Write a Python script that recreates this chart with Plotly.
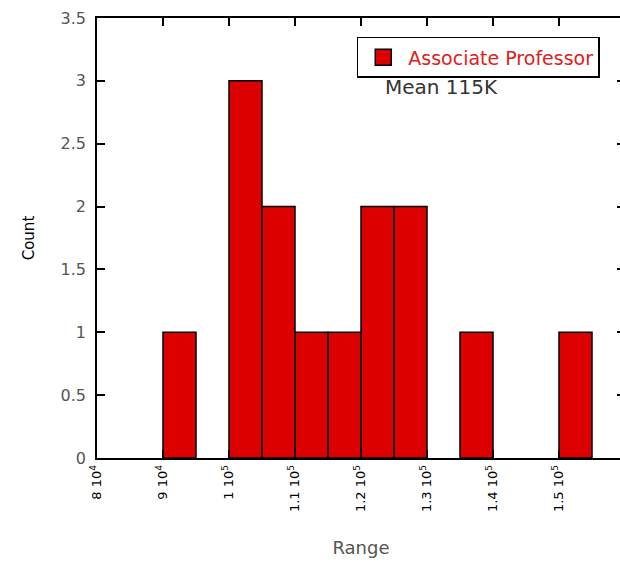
import plotly.graph_objects as go

# histogram bins (lower edge, 5k wide) and counts
bin_starts = [90000, 100000, 105000, 110000, 115000, 120000, 125000, 135000, 150000]
counts = [1, 3, 2, 1, 1, 2, 2, 1, 1]
bin_width = 5000

x_ticks = [80000, 90000, 100000, 110000, 120000, 130000, 140000, 150000, 160000]
x_tick_text = ['8 10<sup>4</sup>', '9 10<sup>4</sup>', '1 10<sup>5</sup>', '1.1 10<sup>5</sup>',
               '1.2 10<sup>5</sup>', '1.3 10<sup>5</sup>', '1.4 10<sup>5</sup>',
               '1.5 10<sup>5</sup>', '1.6 10<sup>5</sup>']
y_ticks = [0, 0.5, 1, 1.5, 2, 2.5, 3, 3.5]
y_tick_text = ['0', '0.5', '1', '1.5', '2', '2.5', '3', '3.5']

RED = '#dd0000'
centers = [b + bin_width / 2 for b in bin_starts]

fig = go.Figure()
fig.add_trace(go.Bar(
    name='Associate Professor',
    x=centers,
    y=counts,
    width=bin_width,
    showlegend=False,
    marker=dict(color=RED, line=dict(color='black', width=1.5)),
))
# legend entry with a bigger square swatch
fig.add_trace(go.Scatter(
    name='Associate Professor',
    x=[None], y=[None],
    mode='markers',
    marker=dict(symbol='square', size=16, color=RED, line=dict(color='black', width=1.5)),
))

AXIS = dict(
    showline=True, linecolor='black', linewidth=1.5,
    mirror='ticks', ticks='inside', ticklen=8, tickwidth=1.5, tickcolor='black',
    showgrid=False, zeroline=False, automargin=False,
)

# the original plot runs a little past the right edge of the picture
fig.update_layout(
    width=625, height=563,
    paper_bgcolor='white', plot_bgcolor='white',
    font=dict(family='DejaVu Sans, sans-serif', size=14, color='black'),
    margin=dict(l=97, r=0, t=18, b=105),
    showlegend=True,
    legend=dict(
        x=0.492, y=0.957, xanchor='left', yanchor='top',
        bordercolor='black', borderwidth=1.5, bgcolor='white',
        font=dict(size=19, color='#e02020'),
        itemwidth=40,
    ),
    xaxis=dict(
        **AXIS, range=[80000, 160000],
        tickvals=x_ticks, ticktext=x_tick_text, tickangle=-90,
        tickfont=dict(size=13, color='black'),
        title=dict(text='Range', font=dict(size=18, color='#555555'), standoff=30),
    ),
    yaxis=dict(
        **AXIS, range=[0, 3.5],
        tickvals=y_ticks, ticktext=y_tick_text,
        tickfont=dict(size=16, color='#555555'),
        ticklabelstandoff=6,
        title=dict(text='Count', font=dict(size=15, color='black'), standoff=22),
    ),
    annotations=[dict(
        text='Mean 115K', x=0.652, y=0.843, xref='paper', yref='paper',
        xanchor='center', yanchor='middle', showarrow=False,
        font=dict(size=20, color='#333333'),
    )],
)

# drop the default page margin and clip the overhang instead of scrolling
fig.write_html(
    'out.html',
    config={'displayModeBar': False},
    post_script="document.body.style.margin='0';document.body.style.overflow='hidden';",
)
